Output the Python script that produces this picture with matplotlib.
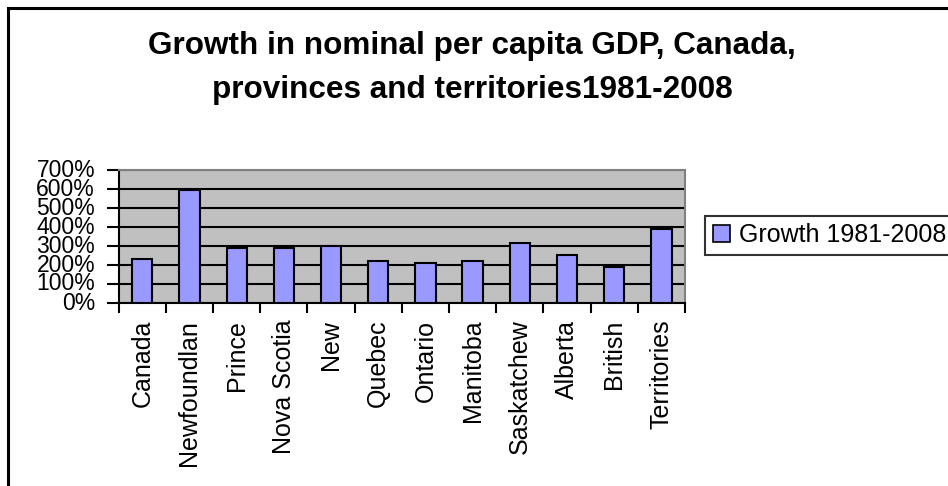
import matplotlib
matplotlib.use("Agg")
import matplotlib.pyplot as plt
from matplotlib.patches import Rectangle, Patch
from matplotlib.ticker import FuncFormatter, FixedLocator, NullFormatter
import numpy as np

plt.rcParams['font.family'] = ['Liberation Sans', 'DejaVu Sans']

categories = ["Canada", "Newfoundlan", "Prince", "Nova Scotia", "New", "Quebec",
              "Ontario", "Manitoba", "Saskatchew", "Alberta", "British", "Territories"]
growth = [231, 597, 291, 291, 300, 219, 209, 219, 314, 251, 188, 388]
series_name = "Growth 1981-2008"
title = "Growth in nominal per capita GDP, Canada,\nprovinces and territories1981-2008"

W, H = 948, 486
fig = plt.figure(figsize=(W / 100, H / 100), dpi=100)
fig.patch.set_facecolor("white")

ax = fig.add_axes([118.7 / W, 1 - 303 / H, (685 - 118.7) / W, (303 - 170) / H])
ax.set_facecolor("#C0C0C0")

x = np.arange(len(categories))
ax.bar(x, growth, width=0.43, color="#9999FF", edgecolor="black", linewidth=1.5,
       zorder=3, label=series_name)

ax.set_xlim(-0.5, len(categories) - 0.5)
ax.set_ylim(0, 700)
ax.set_yticks(np.arange(0, 701, 100))
ax.yaxis.set_major_formatter(FuncFormatter(lambda v, p: f"{int(v)}%"))
ax.grid(axis="y", color="black", linewidth=1.5, zorder=1)
ax.set_axisbelow(True)

# x ticks at category boundaries, labels at centers
ax.xaxis.set_major_locator(FixedLocator(np.arange(-0.5, len(categories), 1.0)))
ax.xaxis.set_major_formatter(NullFormatter())
ax.xaxis.set_minor_locator(FixedLocator(x))
ax.set_xticklabels(categories, minor=True, rotation=90, fontsize=18, va="top")
ax.tick_params(axis="x", which="major", direction="out", length=7, width=1.5, color="black")
ax.tick_params(axis="x", which="minor", length=0, pad=12)
ax.tick_params(axis="y", direction="out", length=9, width=1.5, color="black",
               labelsize=16.5, pad=8)
for lbl in ax.get_yticklabels():
    lbl.set_verticalalignment("center")

for s in ["left", "bottom"]:
    ax.spines[s].set_color("black")
    ax.spines[s].set_linewidth(1.5)
for s in ["top", "right"]:
    ax.spines[s].set_color("#808080")
    ax.spines[s].set_linewidth(1.5)

fig.text(472 / W, 1 - 68 / H, title, ha="center", va="center", fontsize=22.7,
         fontweight="bold", linespacing=1.6)

handle = Patch(facecolor="#9999FF", edgecolor="black", linewidth=1.2)
leg = fig.legend([handle], [series_name], loc="center left",
                 bbox_to_anchor=(705 / W, 1 - 235.5 / H), frameon=True, fancybox=False,
                 shadow=False, fontsize=18, handlelength=0.7, handleheight=0.7,
                 handletextpad=0.35, borderpad=0.3, borderaxespad=0)
leg.get_frame().set_edgecolor("black")
leg.get_frame().set_linewidth(1.5)

# outer chart border (cropped on right and bottom)
fig.patches.append(Rectangle((7.5 / W, -0.05), 1.1, 1 - 8 / H + 0.05,
                             transform=fig.transFigure, fill=False,
                             edgecolor="black", linewidth=2.2, zorder=10))

fig.savefig("out.png", dpi=100, facecolor="white")
